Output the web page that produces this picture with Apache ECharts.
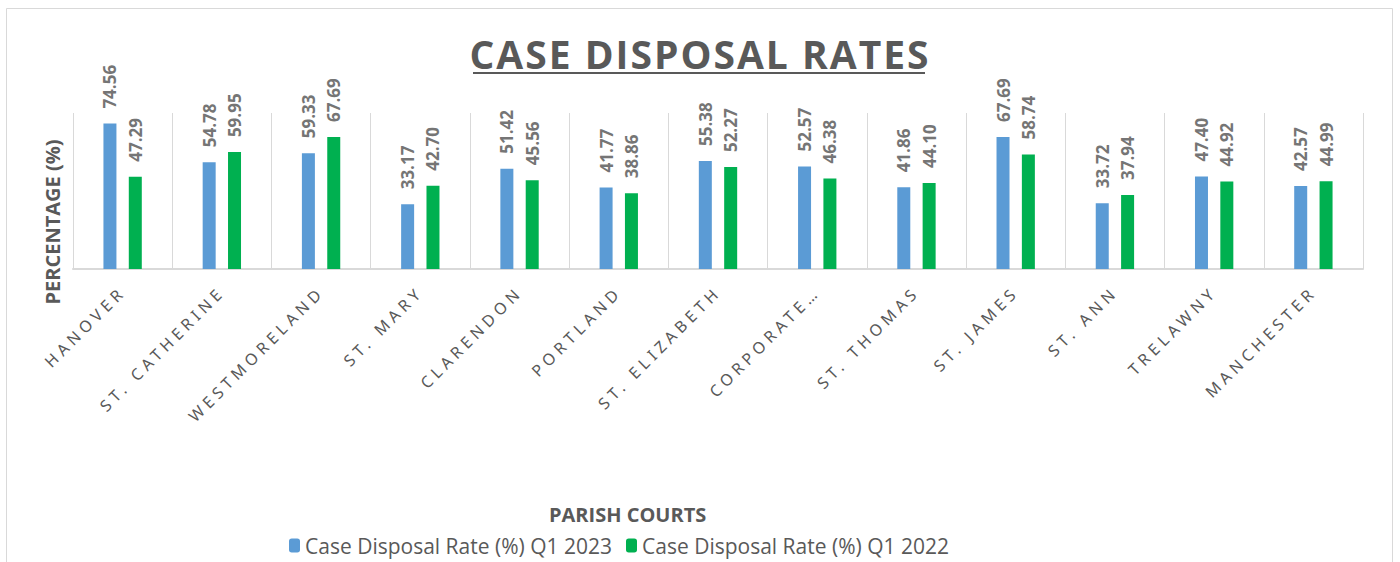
<!DOCTYPE html>
<html>
<head>
<meta charset="utf-8">
<title>Case Disposal Rates</title>
<script src="https://cdn.jsdelivr.net/npm/echarts@6/dist/echarts.min.js"></script>
<style>
  html, body { margin: 0; padding: 0; background: #fff; }
  #chart { width: 1400px; height: 562px; }
  /* Excel spreads the letters of the court names and the title a bit */
  #chart text[style*="Noto Sans"] { letter-spacing: 4.5px; }
  #chart text[style*="39px"] { letter-spacing: 2px; }
</style>
</head>
<body>
<div id="chart"></div>
<script>
// parish courts (x axis)
const parishes = ["HANOVER", "ST. CATHERINE", "WESTMORELAND", "ST. MARY", "CLARENDON", "PORTLAND",
  "ST. ELIZABETH", "CORPORATE…", "ST. THOMAS", "ST. JAMES", "ST. ANN", "TRELAWNY", "MANCHESTER"];
// disposal rates in percent
const rate2023 = [74.56, 54.78, 59.33, 33.17, 51.42, 41.77, 55.38, 52.57, 41.86, 67.69, 33.72, 47.40, 42.57];
const rate2022 = [47.29, 59.95, 67.69, 42.70, 45.56, 38.86, 52.27, 46.38, 44.10, 58.74, 37.94, 44.92, 44.99];

const grey = "#595959";
const font = "Open Sans";

// label on top of each bar, turned upright
const barLabel = {
  show: true,
  position: "top",
  rotate: 90,
  align: "left",
  verticalAlign: "middle",
  distance: 15,
  color: "#757575",
  fontFamily: font,
  fontWeight: "bold",
  fontSize: 17,
  formatter: p => p.value.toFixed(2)
};

// svg so that the css letter spacing above reaches the texts
let myChart = echarts.init(document.getElementById("chart"), null, { renderer: "svg" });
myChart.setOption({
  animation: false,
  textStyle: { fontFamily: font },
  title: [
    {
      text: "CASE DISPOSAL RATES",
      left: "center",
      top: 29,
      textStyle: { color: grey, fontFamily: font, fontWeight: "bold", fontSize: 39 }
    },
    {
      text: "PARISH COURTS",
      left: 544,
      top: 499,
      textStyle: { color: grey, fontFamily: font, fontWeight: "bold", fontSize: 20 }
    }
  ],
  legend: {
    left: 284,
    top: 530,
    itemWidth: 11,
    itemHeight: 14,
    itemGap: 14,
    textStyle: { color: grey, fontFamily: font, fontSize: 21 },
    data: ["Case Disposal Rate (%) Q1 2023", "Case Disposal Rate (%) Q1 2022"]
  },
  grid: { left: 73, right: 37, top: 113, bottom: 293 },
  xAxis: {
    type: "category",
    data: parishes,
    axisLine: { lineStyle: { color: "#d9d9d9", width: 2 } },
    axisTick: { show: false },
    splitLine: { show: true, lineStyle: { color: "#d9d9d9", width: 1 } },
    axisLabel: {
      interval: 0,
      rotate: 45,
      margin: 20,
      color: grey,
      fontFamily: "Noto Sans",
      fontSize: 16
    }
  },
  yAxis: {
    type: "value",
    min: 0,
    max: 80,
    show: false
  },
  series: [
    {
      name: "Case Disposal Rate (%) Q1 2023",
      type: "bar",
      data: rate2023,
      barWidth: 13,
      barGap: "95%",
      itemStyle: { color: "#5b9bd5" },
      label: barLabel
    },
    {
      name: "Case Disposal Rate (%) Q1 2022",
      type: "bar",
      data: rate2022,
      barWidth: 13,
      itemStyle: { color: "#00b050" },
      label: barLabel
    }
  ],
  graphic: [
    // outer frame of the chart box
    {
      type: "rect",
      silent: true,
      shape: { x: 6.5, y: 8.5, width: 1386, height: 600 },
      style: { fill: null, stroke: "#d9d9d9", lineWidth: 1 }
    },
    // title underline
    {
      type: "line",
      silent: true,
      shape: { x1: 473, y1: 73, x2: 925, y2: 73 },
      style: { stroke: grey, lineWidth: 2 }
    },
    // y axis title
    {
      type: "text",
      silent: true,
      x: 52,
      y: 222,
      rotation: Math.PI / 2,
      style: {
        text: "PERCENTAGE (%)",
        fill: grey,
        font: "bold 20px 'Open Sans'",
        align: "center",
        verticalAlign: "middle"
      }
    }
  ]
});
</script>
</body>
</html>
